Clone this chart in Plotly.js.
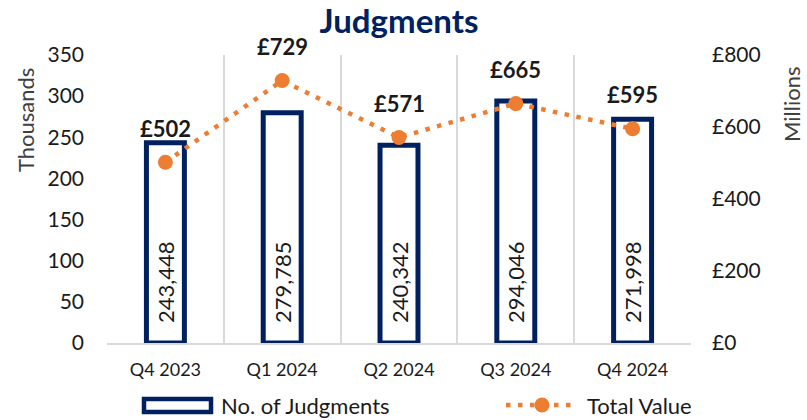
<!DOCTYPE html>
<html>
<head>
<meta charset="utf-8">
<script src="https://cdn.plot.ly/plotly-3.0.1.min.js"></script>
<style>html,body{margin:0;padding:0;background:#fff;}#chart{width:807px;height:420px;}</style>
</head>
<body>
<div id="chart"></div>
<script>
const quarters = ["Q4 2023", "Q1 2024", "Q2 2024", "Q3 2024", "Q4 2024"];
const judgmentCounts = [243448, 279785, 240342, 294046, 271998];
const totalValueMillions = [502, 729, 571, 665, 595];
const seriesNames = ["No. of Judgments", "Total Value"];
const axisTitles = ["Thousands", "Millions"];

const navy = "#002060";
const orange = "#ED7D31";
const font = "Lato, 'Open Sans', sans-serif";
const textColor = "#1a1a1a";

// plot area in pixels: x 107..691, y 55..343
const PL = 107, PW = 584, PT = 55, PH = 288;
const px = v => (v - PL) / PW;
const py = v => (PT + PH - v) / PH;

const bars = {
  type: "bar",
  name: seriesNames[0],
  x: quarters,
  y: judgmentCounts.map(v => v / 1000),
  customdata: judgmentCounts,
  texttemplate: "\u00a0\u00a0\u00a0%{customdata:,}",
  textposition: "inside",
  insidetextanchor: "start",
  textangle: -90,
  constraintext: "none",
  textfont: {family: font, size: 22, color: textColor},
  marker: {color: "#ffffff", line: {color: navy, width: 5}},
  width: 0.325,
  yaxis: "y",
  hoverinfo: "skip",
  showlegend: false
};

const line = {
  type: "scatter",
  mode: "lines+markers",
  name: seriesNames[1],
  x: quarters,
  y: totalValueMillions,
  line: {color: orange, width: 4.5, dash: "4.5px,7.5px"},
  marker: {color: orange, size: 15},
  yaxis: "y2",
  cliponaxis: false,
  hoverinfo: "skip",
  showlegend: false
};

const valueLabels = quarters.map((q, i) => ({
  x: q, y: totalValueMillions[i], xref: "x", yref: "y2",
  xanchor: "center", yanchor: "middle",
  text: "<b>£" + totalValueMillions[i] + "</b>",
  showarrow: false, yshift: 34,
  font: {family: font, size: 22, color: textColor}
}));

const annotations = valueLabels.concat([
  {x: px(25), y: py(120), xref: "paper", yref: "paper", text: axisTitles[0], textangle: -90,
   xanchor: "center", yanchor: "middle",
   showarrow: false, font: {family: font, size: 22, color: "#404040"}},
  {x: px(791), y: py(105), xref: "paper", yref: "paper", text: axisTitles[1], textangle: -90,
   xanchor: "center", yanchor: "middle",
   showarrow: false, font: {family: font, size: 22, color: "#404040"}},
  {x: px(219), y: py(405), xref: "paper", yref: "paper", text: seriesNames[0],
   xanchor: "left", yanchor: "middle",
   showarrow: false, font: {family: font, size: 22, color: textColor}},
  {x: px(585), y: py(405), xref: "paper", yref: "paper", text: seriesNames[1],
   xanchor: "left", yanchor: "middle",
   showarrow: false, font: {family: font, size: 22, color: textColor}}
]);

const shapes = [
  {type: "rect", xref: "paper", yref: "paper", x0: px(144), x1: px(211), y0: py(412), y1: py(399),
   line: {color: navy, width: 4.5}, fillcolor: "#ffffff"},
  {type: "line", xref: "paper", yref: "paper", x0: px(506), x1: px(576), y0: py(405), y1: py(405),
   line: {color: orange, width: 4.5, dash: "4.5px,7.5px"}},
  {type: "circle", xref: "paper", yref: "paper", x0: px(534.5), x1: px(549.5), y0: py(412.5), y1: py(397.5),
   line: {color: orange, width: 0}, fillcolor: orange}
];

const layout = {
  width: 807,
  height: 420,
  margin: {l: PL, r: 807 - PL - PW, t: PT, b: 420 - PT - PH},
  paper_bgcolor: "#fff",
  plot_bgcolor: "#fff",
  font: {family: font, color: textColor},
  title: {
    text: "<b>Judgments</b>",
    font: {family: font, size: 33, color: navy},
    x: 0.5, xref: "paper", xanchor: "center",
    yref: "container", y: 0.95, yanchor: "middle"
  },
  xaxis: {
    type: "category",
    range: [-0.5, 4.5],
    tickson: "boundaries",
    showgrid: true,
    gridcolor: "#d9d9d9",
    gridwidth: 2,
    showline: true,
    linecolor: "#d9d9d9",
    linewidth: 2,
    ticks: "",
    tickfont: {family: font, size: 18, color: textColor},
    ticklabelstandoff: 9,
    fixedrange: true
  },
  yaxis: {
    range: [0, 350],
    dtick: 50,
    showgrid: false,
    zeroline: false,
    showline: false,
    ticks: "",
    tickfont: {family: font, size: 21, color: textColor},
    ticklabelstandoff: 22,
    fixedrange: true
  },
  yaxis2: {
    overlaying: "y",
    side: "right",
    range: [0, 800],
    dtick: 200,
    tickprefix: "£",
    showgrid: false,
    zeroline: false,
    showline: false,
    ticks: "",
    tickfont: {family: font, size: 21, color: textColor},
    ticklabelstandoff: 20,
    fixedrange: true
  },
  showlegend: false,
  annotations: annotations,
  shapes: shapes
};

Plotly.newPlot("chart", [bars, line], layout, {displayModeBar: false, staticPlot: true});
</script>
</body>
</html>
